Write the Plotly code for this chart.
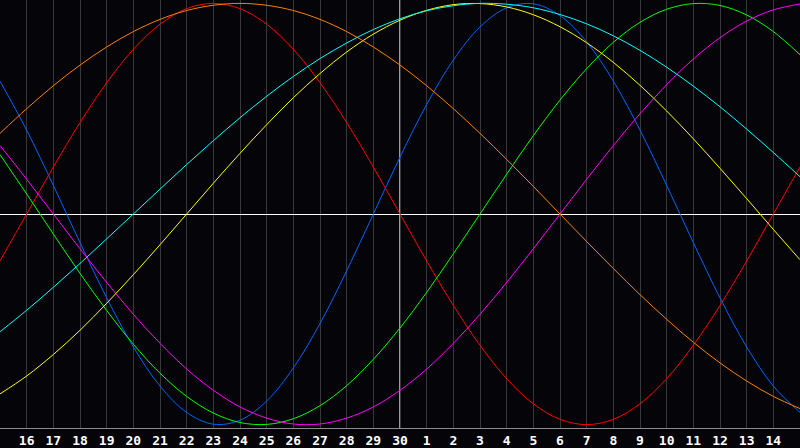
import plotly.graph_objects as go

# x positions are day slots: index 0 = the 15th of the previous month, 15 = the 30th (today)
day_idx = list(range(31))
tick_idx = list(range(1, 30))
tick_labels = [str(d) for d in range(16, 31)] + [str(d) for d in range(1, 15)]

physical = [0.631, 0.398, 0.136, -0.136, -0.398, -0.631, -0.817, -0.942, -0.998, -0.979, -0.888,
            -0.731, -0.520, -0.270, 0.0, 0.270, 0.520, 0.731, 0.888, 0.979, 0.998, 0.942, 0.817,
            0.631, 0.398, 0.136, -0.136, -0.398, -0.631, -0.817, -0.942]
emotional = [-0.223, 0.0, 0.223, 0.434, 0.623, 0.782, 0.901, 0.975, 1.0, 0.975, 0.901, 0.782,
             0.623, 0.434, 0.223, 0.0, -0.223, -0.434, -0.623, -0.782, -0.901, -0.975, -1.0,
             -0.975, -0.901, -0.782, -0.623, -0.434, -0.223, 0.0, 0.223]
intellectual = [0.282, 0.095, -0.095, -0.282, -0.458, -0.618, -0.756, -0.866, -0.945, -0.99, -0.999,
                -0.972, -0.91, -0.815, -0.69, -0.541, -0.372, -0.189, 0.0, 0.189, 0.372, 0.541,
                0.69, 0.815, 0.91, 0.972, 0.999, 0.99, 0.945, 0.866, 0.756]
intuitive = [0.325, 0.165, 0.0, -0.165, -0.325, -0.476, -0.614, -0.736, -0.837, -0.916, -0.969,
             -0.997, -0.997, -0.969, -0.916, -0.837, -0.736, -0.614, -0.476, -0.325, -0.165, 0.0,
             0.165, 0.325, 0.476, 0.614, 0.736, 0.837, 0.916, 0.969, 0.997]
aesthetic = [-0.854, -0.769, -0.667, -0.552, -0.424, -0.288, -0.146, 0.0, 0.146, 0.288, 0.424,
             0.552, 0.667, 0.769, 0.854, 0.92, 0.967, 0.994, 0.999, 0.983, 0.946, 0.889, 0.813,
             0.72, 0.611, 0.489, 0.357, 0.217, 0.073, -0.073, -0.217]
awareness = [0.383, 0.5, 0.609, 0.707, 0.793, 0.866, 0.924, 0.966, 0.991, 1.0, 0.991, 0.966,
             0.924, 0.866, 0.793, 0.707, 0.609, 0.5, 0.383, 0.259, 0.131, 0.0, -0.131, -0.259,
             -0.383, -0.5, -0.609, -0.707, -0.793, -0.866, -0.924]
spiritual = [-0.559, -0.457, -0.348, -0.235, -0.118, 0.0, 0.118, 0.235, 0.348, 0.457, 0.559,
             0.653, 0.738, 0.812, 0.876, 0.927, 0.965, 0.989, 1.0, 0.996, 0.979, 0.947, 0.903,
             0.846, 0.777, 0.697, 0.607, 0.509, 0.403, 0.292, 0.177]

series = [
    ("Physical", physical, "#0064ff"),
    ("Emotional", emotional, "#ff0000"),
    ("Intellectual", intellectual, "#00ff00"),
    ("Intuitive", intuitive, "#ff00ff"),
    ("Aesthetic", aesthetic, "#ffff00"),
    ("Awareness", awareness, "#ff8000"),
    ("Spiritual", spiritual, "#00ffff"),
]

fig = go.Figure()
for name, vals, color in series:
    fig.add_trace(go.Scatter(x=day_idx, y=vals, mode="lines", name=name,
                             line=dict(color=color, width=1, shape="spline", smoothing=1.0)))

# today marker
fig.add_shape(type="line", x0=15, x1=15, y0=0, y1=1, yref="paper",
              line=dict(color="white", width=1.2), layer="below")

fig.update_layout(
    width=800, height=448,
    margin=dict(l=0, r=0, t=0, b=20),
    paper_bgcolor="#050408", plot_bgcolor="#050408",
    showlegend=False,
)
fig.update_xaxes(range=[0, 30], tickmode="array", tickvals=tick_idx, ticktext=tick_labels,
                 automargin=False,
                 showgrid=True, gridcolor="#383838", gridwidth=1, zeroline=False,
                 showline=True, mirror=True, linecolor="#8c8c8c", linewidth=1,
                 ticks="", ticklabelstandoff=0,
                 tickfont=dict(family="DejaVu Sans Mono", size=13, color="white", weight="bold"))
fig.update_yaxes(range=[-1.016, 1.016], showticklabels=False, showgrid=False, automargin=False,
                 zeroline=True, zerolinecolor="white", zerolinewidth=1,
                 showline=True, mirror=True, linecolor="#8c8c8c", linewidth=1)

fig.write_html("out.html", config={"displayModeBar": False},
               post_script="document.body.style.margin='0';")
